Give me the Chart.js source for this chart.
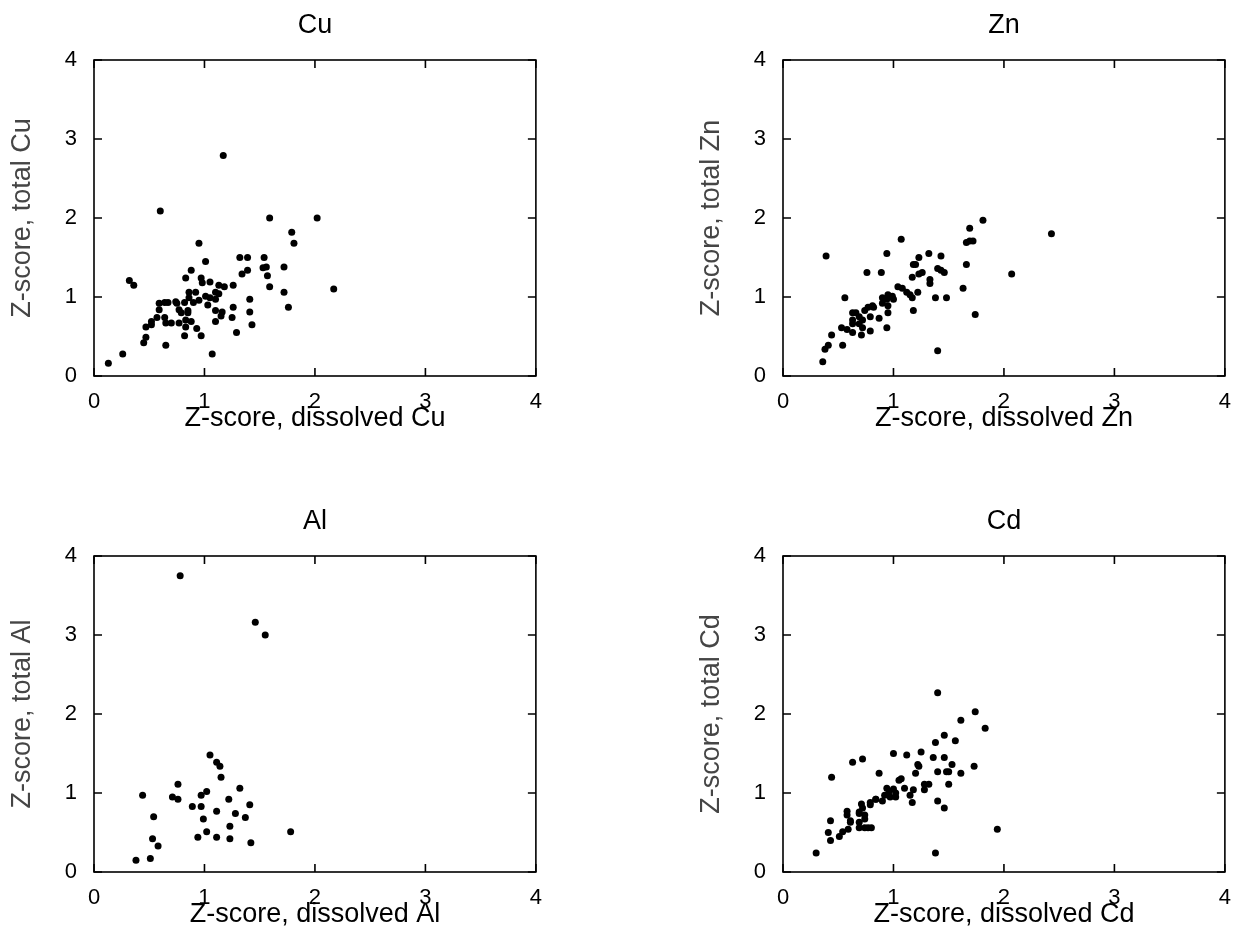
<!DOCTYPE html>
<html>
<head>
<meta charset="utf-8">
<title>Z-scores, dissolved vs total</title>
<script src="https://cdn.jsdelivr.net/npm/chart.js@4/dist/chart.umd.min.js"></script>
<style>
	html, body { margin: 0; padding: 0; background: #fff; overflow: hidden; }
	#page { position: relative; width: 1236px; height: 930px; }
	#page canvas { position: absolute; }
</style>
</head>
<body>
<div id="page"></div>
<script>
// Z-score pairs per metal: dissolved (x) against total (y)
var metals = ["Cu", "Zn", "Al", "Cd"];
var axisTicks = [0, 1, 2, 3, 4];

var cuDissolved = [
	1.17, 0.60, 1.59, 2.02, 1.79, 1.81, 0.95, 1.01, 1.32, 1.39,
	1.54, 1.53, 1.56, 1.72, 1.34, 1.39, 1.57, 1.59, 1.72, 1.76,
	2.17, 0.32, 0.36, 0.88, 0.83, 0.97, 0.98, 1.05, 1.13, 1.18,
	1.26, 0.86, 0.92, 1.01, 1.10, 1.13, 1.05, 1.10, 0.86, 0.95,
	0.90, 1.03, 0.74, 0.59, 0.64, 0.67, 0.75, 0.82, 0.59, 0.77,
	0.85, 0.79, 0.85, 1.10, 1.16, 1.15, 1.26, 1.41, 1.41, 1.25,
	1.43, 0.57, 0.64, 0.65, 0.52, 0.52, 0.47, 0.70, 0.77, 0.83,
	0.88, 0.83, 0.93, 1.10, 0.47, 0.45, 0.82, 0.97, 1.29, 0.65,
	1.07, 0.26, 0.13
];
var cuTotal = [
	2.79, 2.09, 2.00, 2.00, 1.82, 1.68, 1.68, 1.45, 1.50, 1.50,
	1.50, 1.37, 1.38, 1.38, 1.29, 1.34, 1.27, 1.13, 1.06, 0.87,
	1.10, 1.21, 1.15, 1.34, 1.24, 1.24, 1.18, 1.19, 1.15, 1.13,
	1.15, 1.06, 1.06, 1.01, 1.06, 1.04, 0.99, 0.97, 0.99, 0.96,
	0.93, 0.90, 0.94, 0.92, 0.93, 0.93, 0.92, 0.93, 0.84, 0.84,
	0.83, 0.80, 0.80, 0.83, 0.81, 0.76, 0.87, 0.97, 0.81, 0.74,
	0.65, 0.74, 0.74, 0.67, 0.69, 0.65, 0.62, 0.67, 0.67, 0.71,
	0.69, 0.62, 0.60, 0.69, 0.49, 0.42, 0.51, 0.51, 0.55, 0.39,
	0.28, 0.28, 0.16
];

var znDissolved = [
	1.81, 1.69, 1.66, 1.72, 1.69, 2.07, 1.07, 0.39, 0.94, 1.32,
	1.43, 1.23, 1.18, 1.20, 1.66, 0.76, 0.89, 1.26, 1.23, 1.40,
	1.43, 1.46, 1.17, 1.33, 1.33, 1.63, 1.04, 1.08, 1.12, 1.15,
	1.22, 1.17, 1.38, 1.48, 0.56, 0.95, 0.99, 0.90, 0.94, 1.00,
	0.90, 0.95, 0.95, 0.81, 0.77, 0.82, 0.87, 1.18, 1.74, 0.63,
	0.66, 0.74, 0.63, 0.69, 0.72, 0.79, 0.53, 0.58, 0.63, 0.69,
	0.72, 0.79, 0.71, 0.94, 0.44, 0.41, 0.38, 0.54, 0.36, 1.40,
	0.63, 2.43
];
var znTotal = [
	1.97, 1.87, 1.69, 1.71, 1.71, 1.29, 1.73, 1.52, 1.55, 1.55,
	1.52, 1.50, 1.41, 1.41, 1.41, 1.31, 1.31, 1.31, 1.29, 1.36,
	1.34, 1.31, 1.25, 1.22, 1.17, 1.11, 1.13, 1.11, 1.06, 1.03,
	1.06, 0.99, 0.99, 0.99, 0.99, 1.03, 1.01, 0.99, 0.97, 0.97,
	0.92, 0.89, 0.80, 0.89, 0.87, 0.87, 0.73, 0.83, 0.78, 0.80,
	0.80, 0.83, 0.71, 0.75, 0.71, 0.75, 0.61, 0.59, 0.55, 0.66,
	0.61, 0.57, 0.52, 0.61, 0.52, 0.39, 0.34, 0.39, 0.18, 0.32,
	0.66, 1.80
];

var alDissolved = [
	0.78, 1.46, 1.55, 1.05, 1.11, 1.14, 1.15, 0.76, 1.32, 1.02,
	0.44, 0.71, 0.76, 0.97, 1.22, 0.89, 0.97, 1.41, 1.11, 1.28,
	1.37, 0.54, 0.99, 1.23, 1.02, 0.94, 1.11, 1.23, 1.42, 1.78,
	0.53, 0.58, 0.51, 0.38
];
var alTotal = [
	3.75, 3.16, 3.00, 1.48, 1.39, 1.34, 1.20, 1.11, 1.06, 1.02,
	0.97, 0.95, 0.92, 0.97, 0.92, 0.83, 0.83, 0.85, 0.77, 0.74,
	0.69, 0.70, 0.67, 0.58, 0.51, 0.44, 0.44, 0.42, 0.37, 0.51,
	0.42, 0.33, 0.17, 0.15
];

var cdDissolved = [
	1.40, 1.74, 1.61, 1.83, 1.46, 1.56, 1.38, 1.00, 1.12, 1.25,
	0.63, 0.72, 1.36, 1.46, 1.22, 1.23, 1.53, 1.73, 0.44, 0.87,
	1.20, 1.40, 1.48, 1.50, 1.61, 1.05, 1.07, 1.28, 1.32, 1.50,
	1.10, 1.18, 1.28, 1.15, 1.17, 1.40, 1.46, 0.94, 0.96, 1.02,
	1.02, 0.92, 0.84, 0.79, 0.71, 0.72, 0.58, 0.58, 0.69, 0.61,
	0.43, 0.90, 1.94, 0.41, 0.43, 0.51, 0.54, 0.59, 0.30, 1.38,
	0.69, 0.74, 0.77, 0.80, 0.61, 0.69, 0.74, 0.69, 0.74, 0.79,
	0.84, 1.00, 0.97
];
var cdTotal = [
	2.27, 2.03, 1.92, 1.82, 1.73, 1.66, 1.64, 1.50, 1.48, 1.52,
	1.39, 1.43, 1.45, 1.45, 1.36, 1.34, 1.36, 1.34, 1.20, 1.25,
	1.25, 1.27, 1.27, 1.27, 1.25, 1.16, 1.18, 1.11, 1.11, 1.11,
	1.06, 1.04, 1.04, 0.97, 0.88, 0.90, 0.81, 1.06, 1.02, 1.00,
	0.95, 0.97, 0.92, 0.88, 0.86, 0.81, 0.77, 0.72, 0.74, 0.65,
	0.65, 0.90, 0.54, 0.50, 0.40, 0.45, 0.51, 0.54, 0.24, 0.24,
	0.56, 0.56, 0.56, 0.56, 0.63, 0.63, 0.67, 0.76, 0.72, 0.85,
	0.92, 1.05, 0.95
];

var dissolved = [cuDissolved, znDissolved, alDissolved, cdDissolved];
var total = [cuTotal, znTotal, alTotal, cdTotal];

var FONT = '"Liberation Sans", Arial, Helvetica, sans-serif';
var CANVAS_W = 547;
var CANVAS_H = 465;
var AREA_TOP = 60;
var AREA_LEFT = 94;
var AREA_RIGHT = 538;
var AREA_BOTTOM = 376;
var TICK_LEN = 8;
var TITLE_SIZE = 27;
var TICK_SIZE = 22;

// box around the plot area plus inward tick marks on all four sides
var boxTicks = {
	id: 'boxTicks',
	afterDatasetsDraw: function(chart) {
		var ctx = chart.ctx;
		var a = chart.chartArea;
		var xs = chart.scales.x;
		var ys = chart.scales.y;
		ctx.save();
		ctx.strokeStyle = '#000';
		ctx.lineWidth = 1.6;
		ctx.strokeRect(a.left, a.top, a.right - a.left, a.bottom - a.top);
		ctx.beginPath();
		xs.ticks.forEach(function(t) {
			var px = xs.getPixelForValue(t.value);
			ctx.moveTo(px, a.bottom);
			ctx.lineTo(px, a.bottom - TICK_LEN);
			ctx.moveTo(px, a.top);
			ctx.lineTo(px, a.top + TICK_LEN);
		});
		ys.ticks.forEach(function(t) {
			var py = ys.getPixelForValue(t.value);
			ctx.moveTo(a.left, py);
			ctx.lineTo(a.left + TICK_LEN, py);
			ctx.moveTo(a.right, py);
			ctx.lineTo(a.right - TICK_LEN, py);
		});
		ctx.stroke();
		ctx.restore();
	}
};

function makePanel(idx, left, top) {
	var metal = metals[idx];
	var canvas = document.createElement("canvas");
	canvas.width = CANVAS_W;
	canvas.height = CANVAS_H;
	canvas.style.left = left + "px";
	canvas.style.top = top + "px";
	document.getElementById("page").appendChild(canvas);

	var pts = dissolved[idx].map(function(v, i) {
		return { x: v, y: total[idx][i] };
	});

	new Chart(canvas, {
		type: 'scatter',
		data: {
			datasets: [{
				data: pts,
				pointRadius: 3.5,
				pointHoverRadius: 3.5,
				pointBackgroundColor: '#000',
				pointBorderWidth: 0
			}]
		},
		options: {
			responsive: false,
			animation: false,
			layout: {
				padding: { top: 9, left: 0, right: CANVAS_W - AREA_RIGHT, bottom: 0 }
			},
			plugins: {
				legend: { display: false },
				tooltip: { enabled: false },
				title: {
					display: true,
					text: metal,
					fullSize: false,
					color: '#000',
					font: { family: FONT, size: TITLE_SIZE, weight: 'normal' },
					padding: { top: 0, bottom: AREA_TOP - 9 - TITLE_SIZE * 1.2 }
				}
			},
			scales: {
				x: {
					type: 'linear',
					min: 0,
					max: 4,
					afterBuildTicks: function(s) {
						s.ticks = axisTicks.map(function(v) { return { value: v }; });
					},
					afterFit: function(s) { s.height = CANVAS_H - AREA_BOTTOM; },
					grid: { display: false },
					border: { display: false },
					ticks: {
						color: '#000',
						padding: 5,
						maxRotation: 0,
						font: { family: FONT, size: TICK_SIZE }
					},
					title: {
						display: true,
						text: "Z-score, dissolved " + metal,
						color: '#000',
						font: { family: FONT, size: TITLE_SIZE },
						padding: { top: 0, bottom: 30 }
					}
				},
				y: {
					type: 'linear',
					min: 0,
					max: 4,
					afterBuildTicks: function(s) {
						s.ticks = axisTicks.map(function(v) { return { value: v }; });
					},
					afterFit: function(s) { s.width = AREA_LEFT; },
					grid: { display: false },
					border: { display: false },
					ticks: {
						color: '#000',
						padding: 9,
						font: { family: FONT, size: TICK_SIZE }
					},
					title: {
						display: true,
						text: "Z-score, total " + metal,
						color: '#454545',
						font: { family: FONT, size: TITLE_SIZE },
						padding: { top: 6, bottom: 0 }
					}
				}
			}
		},
		plugins: [boxTicks]
	});
}

makePanel(0, 0, 0);
makePanel(1, 689, 0);
makePanel(2, 0, 496);
makePanel(3, 689, 496);
</script>
</body>
</html>
